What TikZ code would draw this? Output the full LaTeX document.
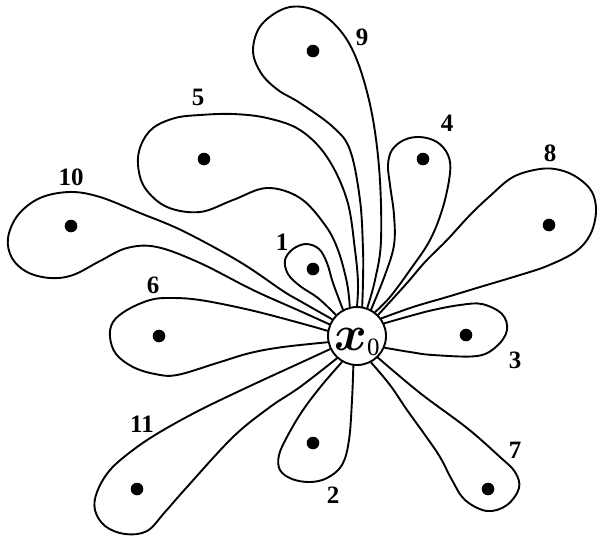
\documentclass[tikz,border=0pt]{standalone}
\usepackage{fontspec}
\setmainfont{Liberation Serif}
\begin{document}
\begin{tikzpicture}[x=0.5pt,y=-0.5pt,
  petal/.style={line width=0.95pt, line join=round, line cap=round},
  seed/.style={fill=black, circle, inner sep=0pt, minimum size=6.3pt},
  num/.style={font=\fontsize{12.5}{12.5}\selectfont\bfseries, inner sep=0pt},
  hub/.style={circle, draw, line width=0.95pt, minimum size=29pt, inner sep=0pt}]
\useasboundingbox (0,0) rectangle (597,537);
\node[hub] (c) at (357,336) {};
\node[inner sep=0pt, yshift=-3pt] (x0) at (c.center) {{\fontsize{25}{25}\selectfont\boldmath$x$}\raisebox{-2.5pt}{\fontsize{12.5}{12.5}\selectfont 0}};
% dots
\node[seed] (d9) at (313,51) {};
\node[seed] (d5) at (204,159) {};
\node[seed] (d10) at (71,226) {};
\node[seed] (d4) at (423,159) {};
\node[seed] (d8) at (549,225) {};
\node[seed] (d1) at (313,269) {};
\node[seed] (d6) at (159,336) {};
\node[seed] (d3) at (466,335) {};
\node[seed] (d11) at (137,489) {};
\node[seed] (d2) at (313,443) {};
\node[seed] (d7) at (488,489) {};
% labels
\node[num] (l9) at (362,37) {9};
\node[num] (l5) at (198,97) {5};
\node[num] (l10) at (71,177) {10};
\node[num] (l4) at (447,123) {4};
\node[num] (l8) at (550,153) {8};
\node[num] (l1) at (282,242) {1};
\node[num] (l6) at (153,285) {6};
\node[num] (l3) at (515,360) {3};
\node[num] (l11) at (142,424) {11};
\node[num] (l2) at (333,495) {2};
\node[num] (l7) at (515,450) {7};
% loops
% 9
\draw[petal] plot[smooth, tension=0.6] coordinates {(c.80) (363,280) (363,250) (360,200) (350,150) (333,127) (300,103) (278,90) (261,73) (253,50) (262,24) (290,7) (322,14) (350,45) (369,100) (379,167) (381,240) (375,280) (c.70)};
% 5
\draw[petal] plot[smooth, tension=0.6] coordinates {(c.104) (347,283) (338,250) (325,225) (300,198) (267,188) (233,200) (200,212) (167,207) (145,188) (138,165) (141,145) (153,128) (175,118) (200,115) (233,114) (267,118) (300,130) (327,157) (347,200) (355,250) (358,283) (c.90)};
% 1
\draw[petal] plot[smooth, tension=0.6] coordinates {(c.135) (318,298) (300,286) (288,274) (285,260) (293,249) (306,244) (319,249) (327,263) (333,283) (c.118)};
% 10
\draw[petal] plot[smooth, tension=0.6] coordinates {(c.146) (300,301) (283,291) (240,262) (183,231) (140,213) (100,197) (70,192) (40,198) (18,215) (8,238) (12,258) (27,272) (50,278) (73,275) (100,261) (127,248) (157,247) (200,263) (253,290) (300,311) (c.157)};
% 6
\draw[petal] plot[smooth, tension=0.6] coordinates {(c.170) (300,323) (250,310) (200,300) (170,298) (150,300) (127,310) (113,322) (110,337) (116,354) (133,367) (155,374) (177,375) (217,363) (250,353) (283,347) (c.192)};
% 11
\draw[petal] plot[smooth, tension=0.6] coordinates {(c.206) (300,363) (250,386) (200,410) (160,432) (133,450) (110,470) (97,492) (95,510) (105,526) (125,534) (147,531) (165,512) (187,487) (233,437) (270,407) (300,387) (c.228)};
% 2
\draw[petal] plot[smooth, tension=0.6] coordinates {(c.240) (322,385) (303,410) (288,435) (279,455) (280,470) (292,479) (310,482) (327,478) (342,465) (349,440) (352,400) (c.263)};
% 7
\draw[petal] plot[smooth, tension=0.6] coordinates {(c.298) (390,385) (407,410) (425,435) (440,457) (452,480) (465,500) (487,511) (507,505) (519,488) (515,472) (500,457) (467,428) (420,393) (c.314)};
% 3
\draw[petal] plot[smooth, tension=0.6] coordinates {(c.-23) (410,352) (433,355) (477,356) (497,346) (507,330) (502,314) (482,304) (460,305) (433,310) (410,316) (c.25)};
% 8
\draw[petal] plot[smooth, tension=0.6] coordinates {(c.36) (413,307) (447,297) (480,287) (520,275) (547,266) (575,252) (590,235) (596,212) (592,192) (578,178) (560,170) (540,169) (513,177) (490,196) (470,215) (447,240) (425,262) (407,283) (c.45)};
% 4
\draw[petal] plot[smooth, tension=0.6] coordinates {(c.53) (390,297) (410,270) (430,240) (443,207) (450,173) (448,155) (437,142) (420,137) (404,140) (392,150) (388,165) (390,185) (394,215) (394,245) (385,275) (c.62)};
\end{tikzpicture}
\end{document}
